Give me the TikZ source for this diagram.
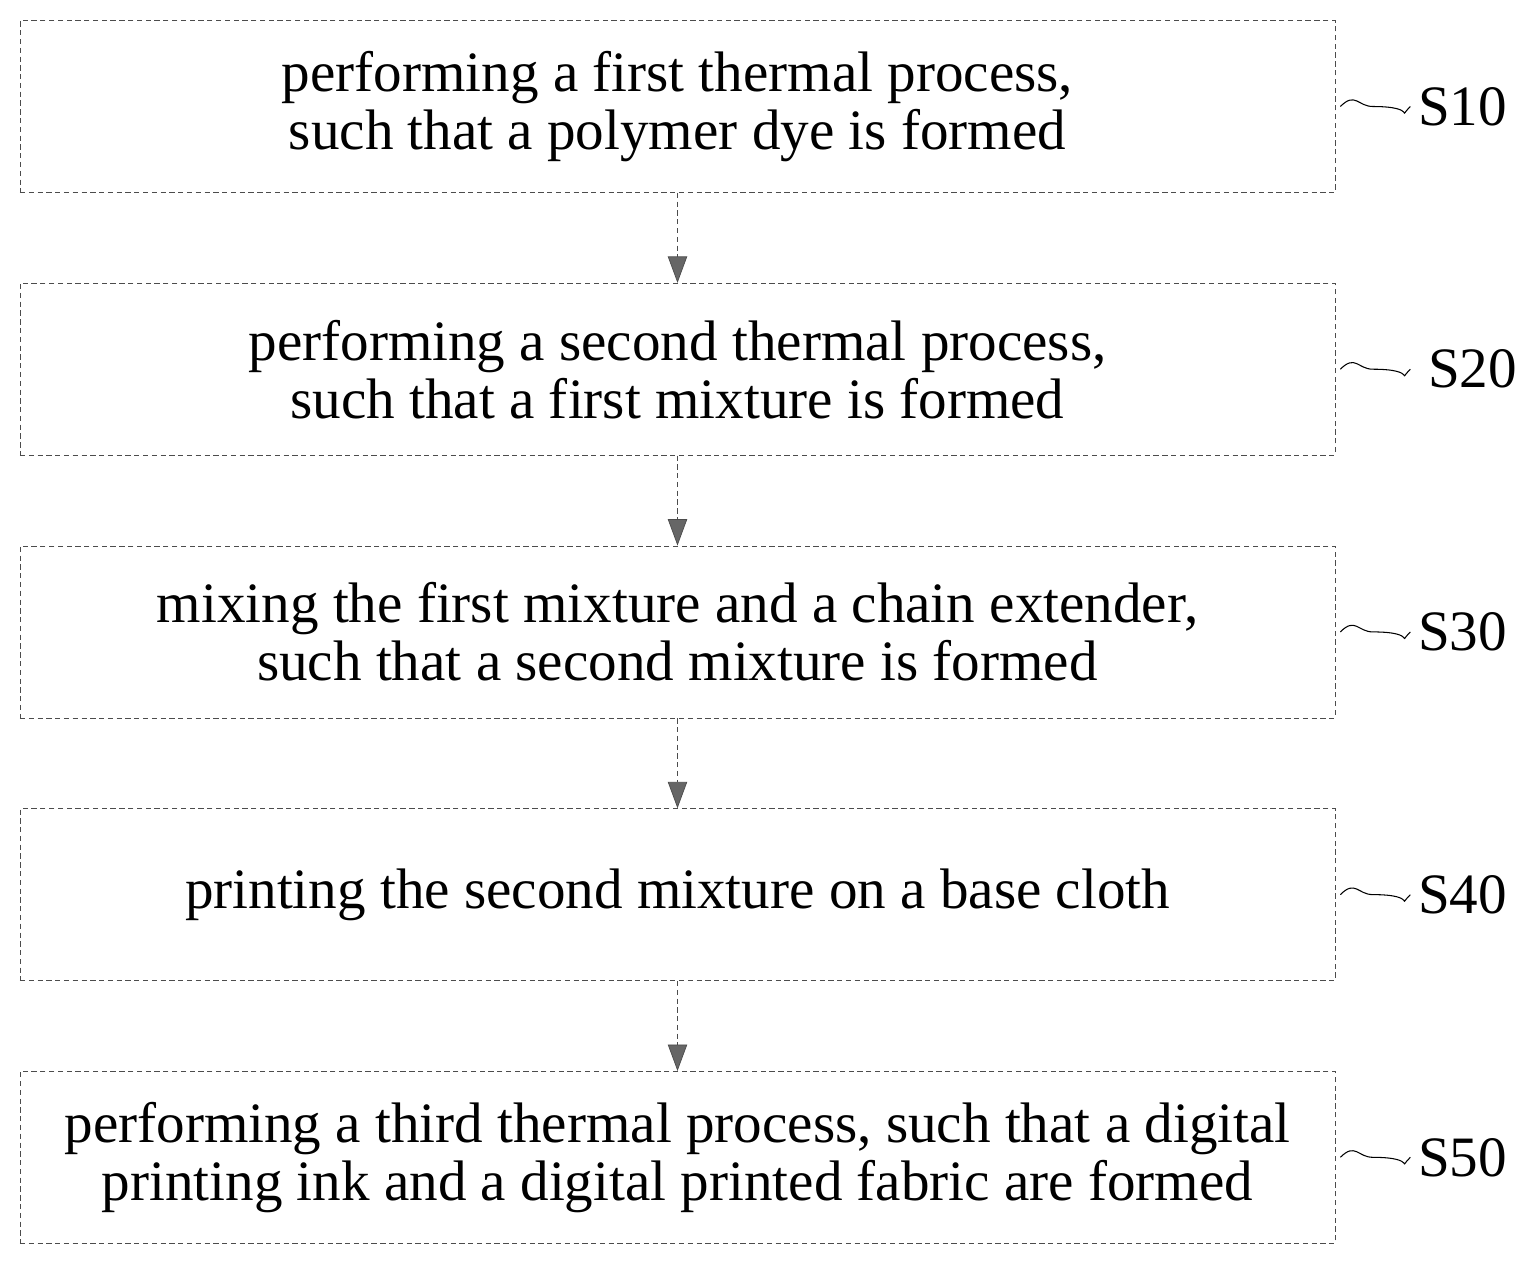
\documentclass[tikz,border=0pt]{standalone}
\usepackage{fontspec}
\setmainfont{Liberation Serif}
\usetikzlibrary{positioning,arrows.meta}
\tikzset{
  >=latex,
  stepbox/.style={draw=black!70,densely dashed,thin,minimum width=26.3cm,minimum height=3.44cm,
    align=center,inner sep=0pt,font=\fontsize{32.5}{33}\selectfont},
  flow/.style={draw=black!70,densely dashed,-{Triangle[width=11pt,length=15pt,fill=black!60]}},
  steplabel/.style={font=\fontsize{32.5}{33}\selectfont,inner sep=0pt}
}
\begin{document}
\begin{tikzpicture}[node distance=1.8cm]
  \useasboundingbox (0,0) rectangle (30.7,-25.22);
  % steps
  \node[stepbox] (s10) at (13.55,-2.13) {performing a first thermal process,\\ such that a polymer dye is formed};
  \node[stepbox,below=of s10] (s20) {performing a second thermal process,\\ such that a first mixture is formed};
  \node[stepbox,below=of s20] (s30) {mixing the first mixture and a chain extender,\\ such that a second mixture is formed};
  \node[stepbox,below=of s30] (s40) {printing the second mixture on a base cloth};
  \node[stepbox,below=of s40] (s50) {performing a third thermal process, such that a digital\\ printing ink and a digital printed fabric are formed};
  % arrows
  \foreach \a/\b in {s10/s20,s20/s30,s30/s40,s40/s50}
    \draw[flow] (\a.south) -- (\b.north);
  % labels
  \foreach \s/\t/\dx in {s10/S10/0,s20/S20/0.2,s30/S30/0,s40/S40/0,s50/S50/0} {
    \node[steplabel,anchor=west] (l\s) at ([xshift=1.65cm+\dx cm]\s.east) {\t};
    \coordinate (w\s) at ([xshift=0.1cm]\s.east |- l\s.west);
    \draw[semithick] (w\s) .. controls +(0.3,0.3) and +(-0.3,0) .. +(0.65,0)
      .. controls +(0.95,0) and +(-0.3,-0.3) .. +(1.4,0);
  }
\end{tikzpicture}
\end{document}
